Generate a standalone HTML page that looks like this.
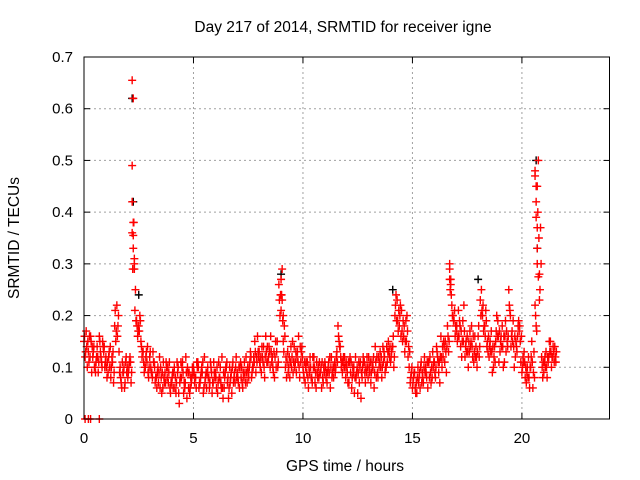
<!DOCTYPE html>
<html><head><meta charset="utf-8"><style>
body{margin:0;background:#fff}
svg{display:block;font-family:"Liberation Sans",sans-serif}
</style></head><body>
<svg id="chart" width="640" height="480" viewBox="0 0 640 480">
<rect width="640" height="480" fill="#fff"/>
<text x="343" y="32" font-size="15.5" text-anchor="middle">Day 217 of 2014, SRMTID for receiver igne</text>
<text transform="translate(19,238) rotate(-90)" font-size="15.5" text-anchor="middle">SRMTID / TECUs</text>
<text x="345" y="471" font-size="15.5" text-anchor="middle">GPS time / hours</text>
<g id="grid"></g><g id="ticks"></g><g id="black"></g><g id="red"></g>
<rect x="84" y="57" width="525.5" height="362" fill="none" stroke="#000" stroke-width="1"/>
</svg>
<script>
const xTicks=[0,5,10,15,20];
const yTicks=[0,0.1,0.2,0.3,0.4,0.5,0.6,0.7];
const yTickLabels=["0","0.1","0.2","0.3","0.4","0.5","0.6","0.7"];
const seriesA=[.15,.17,.13,.16,.12,.10,.14,.16,.11,.13,
.12,.09,.14,.11,.18,.22,.13,.07,.09,.11,
.08,.12,.36,.31,.19,.18,.15,.13,.10,.14,
.12,.09,.11,.08,.07,.10,.06,.09,.08,.11,
.07,.09,.05,.10,.08,.11,.06,.04,.09,.07,
.10,.08,.11,.07,.09,.12,.06,.08,.10,.07,
.09,.05,.08,.12,.06,.10,.04,.08,.11,.07,
.09,.06,.10,.08,.12,.09,.13,.10,.15,.11,
.13,.09,.14,.16,.11,.10,.12,.08,.13,.26,
.21,.15,.10,.13,.08,.12,.14,.09,.16,.11,
.10,.07,.11,.09,.08,.12,.06,.10,.09,.08,
.11,.07,.09,.12,.08,.10,.18,.14,.09,.12,
.10,.07,.11,.09,.12,.05,.10,.08,.11,.09,
.12,.07,.10,.14,.09,.11,.08,.13,.10,.15,
.11,.14,.20,.23,.18,.21,.16,.19,.12,.07,
.06,.09,.05,.08,.11,.07,.10,.06,.12,.08,
.11,.14,.09,.16,.12,.15,.18,.29,.22,.19,
.17,.21,.14,.19,.12,.16,.13,.18,.11,.14,
.16,.23,.20,.18,.14,.12,.17,.10,.15,.19,
.13,.18,.11,.17,.25,.14,.19,.12,.16,.18,
.09,.13,.07,.12,.10,.06,.22,.45,.28,.12,
.09,.13,.11,.15,.12,.14];
const seriesB=[.12,.10,.16,.09,.14,.11,.09,.13,.15,.10,
.08,.13,.10,.07,.15,.18,.10,.11,.06,.09,
.10,.07,.62,.25,.16,.20,.12,.09,.13,.08,
.10,.13,.07,.09,.12,.05,.08,.11,.07,.05,
.09,.06,.11,.03,.08,.05,.12,.09,.06,.10,
.07,.11,.06,.09,.05,.08,.10,.07,.05,.09,
.06,.11,.07,.04,.09,.07,.10,.05,.08,.12,
.07,.11,.06,.09,.07,.10,.08,.12,.09,.13,
.10,.12,.08,.11,.14,.13,.09,.15,.10,.20,
.29,.18,.08,.10,.14,.09,.11,.13,.08,.14,
.08,.11,.06,.10,.12,.07,.09,.11,.06,.10,
.08,.10,.06,.09,.11,.13,.15,.10,.12,.08,
.07,.12,.08,.05,.09,.11,.04,.12,.07,.10,
.09,.11,.06,.08,.12,.10,.14,.09,.11,.12,
.13,.10,.24,.17,.22,.15,.13,.20,.10,.09,
.08,.05,.10,.06,.09,.12,.08,.11,.07,.10,
.08,.12,.07,.10,.14,.09,.13,.27,.20,.16,
.15,.19,.12,.22,.15,.10,.14,.12,.16,.10,
.12,.25,.17,.21,.13,.15,.09,.14,.20,.11,
.16,.10,.19,.14,.21,.17,.10,.14,.19,.11,
.12,.08,.10,.06,.15,.13,.18,.50,.37,.08,
.12,.08,.15,.10,.13,.11];
const seriesC=[.16,.14,.11,.15,.13,.09,.12,.15,.10,.14,
.10,.12,.08,.13,.21,.16,.09,.06,.10,.12,
.09,.11,.29,.21,.18,.17,.14,.11,.12,.09,
.13,.08,.10,.06,.09,.08,.11,.07,.10,.06,
.08,.10,.07,.05,.11,.09,.07,.10,.05,.08,
.09,.06,.10,.08,.11,.07,.09,.06,.09,.11,
.08,.07,.10,.06,.08,.11,.06,.09,.07,.10,
.08,.10,.07,.11,.09,.08,.12,.10,.13,.16,
.11,.14,.10,.13,.12,.16,.10,.12,.15,.23,
.24,.13,.12,.09,.11,.15,.10,.12,.10,.13,
.09,.10,.08,.12,.07,.10,.11,.08,.10,.07,
.10,.09,.12,.08,.10,.12,.16,.12,.11,.10,
.09,.11,.06,.10,.08,.09,.11,.10,.09,.12,
.10,.09,.12,.11,.08,.13,.10,.12,.14,.13,
.12,.16,.22,.19,.20,.17,.18,.15,.14,.08,
.07,.06,.08,.09,.07,.10,.09,.11,.09,.13,
.09,.13,.11,.12,.15,.13,.16,.25,.20,.21,
.18,.16,.17,.15,.14,.13,.17,.14,.13,.12,
.18,.20,.22,.16,.15,.14,.13,.12,.17,.16,
.15,.14,.16,.15,.22,.16,.14,.15,.18,.15,
.10,.11,.09,.08,.12,.09,.20,.40,.25,.10,
.11,.10,.12,.13,.14,.12];
const seriesD=[.13,.15,.12,.14,.10,.12,.11,.12,.14,.11,
.11,.10,.12,.09,.17,.20,.08,.09,.07,.10,
.11,.09,.38,.19,.17,.19,.13,.10,.11,.10,
.09,.11,.08,.10,.06,.09,.07,.10,.09,.07,
.06,.08,.09,.07,.10,.07,.09,.06,.08,.09,
.08,.10,.07,.10,.06,.09,.08,.11,.07,.08,
.10,.08,.06,.09,.10,.08,.07,.10,.09,.08,
.10,.08,.09,.07,.10,.11,.09,.11,.12,.12,
.12,.11,.12,.14,.13,.11,.13,.10,.11,.24,
.19,.16,.11,.12,.10,.11,.13,.11,.14,.12,
.11,.09,.10,.08,.10,.09,.08,.09,.11,.09,
.09,.11,.10,.10,.09,.11,.14,.11,.10,.11,
.11,.09,.10,.08,.10,.07,.09,.11,.10,.08,
.11,.10,.09,.12,.10,.12,.11,.10,.13,.14,
.14,.12,.19,.21,.16,.19,.15,.17,.13,.10,
.09,.07,.07,.10,.08,.09,.11,.08,.10,.11,
.10,.11,.12,.14,.11,.14,.15,.24,.19,.18,
.16,.18,.15,.17,.13,.15,.15,.16,.12,.13,
.14,.21,.18,.19,.16,.13,.14,.11,.16,.17,
.14,.16,.13,.16,.20,.15,.16,.13,.17,.16,
.11,.10,.08,.10,.11,.08,.17,.35,.30,.11,
.10,.12,.13,.12,.11,.13];
const spikeTimes=[2.2,2.2,2.2,2.25,2.25,2.25,2.3,2.3,0.05,0.2,0.3,0.7,9.0,9.0,9.05,9.1,16.7,16.7,16.75,20.6,20.6,20.65,20.65,20.65,20.7,20.7,20.7,20.75,20.8];
const spikeVals=[.655,.49,.42,.38,.355,.33,.30,.29,0,0,0,0,.27,.24,.23,.20,.30,.27,.26,.48,.47,.45,.42,.39,.37,.33,.30,.275,.23];
const blackTimes=[2.2,2.25,2.5,20.65,20.7,9.0,14.1,18.0];
const blackVals=[.62,.42,.24,.50,.33,.28,.25,.27];
const X=t=>84+t*(525.5/24), Y=v=>419-v*(362/0.7);
const NS="http://www.w3.org/2000/svg";
function mk(tag,attrs,parent){const e=document.createElementNS(NS,tag);for(const k in attrs)e.setAttribute(k,attrs[k]);parent.appendChild(e);return e;}
const grid=document.getElementById('grid'),ticks=document.getElementById('ticks');
xTicks.forEach(t=>{
 if(t>0){const g=mk('line',{x1:X(t),x2:X(t),y1:57,y2:419,stroke:'#a0a0a0','stroke-dasharray':'2,3'},grid);
 
 }
 const l=mk('text',{x:X(t),y:443,'font-size':15,'text-anchor':'middle'},ticks);l.textContent=t;
 
 
 mk('line',{x1:X(t),x2:X(t),y1:419,y2:413,stroke:'#000'},ticks);
 mk('line',{x1:X(t),x2:X(t),y1:57,y2:63,stroke:'#000'},ticks);
});
yTicks.forEach((v,i)=>{
 if(v>0&&v<0.7){const g=mk('line',{x1:84,x2:609.5,y1:Y(v),y2:Y(v),stroke:'#a0a0a0','stroke-dasharray':'2,3'},grid);
 
 }
 const l=mk('text',{x:73,y:Y(v)+5,'font-size':15,'text-anchor':'end'},ticks);l.textContent=yTickLabels[i];
 
 
 mk('line',{x1:84,x2:90,y1:Y(v),y2:Y(v),stroke:'#000'},ticks);
 mk('line',{x1:603.5,x2:609.5,y1:Y(v),y2:Y(v),stroke:'#000'},ticks);
});
function plus(t,v,col,g,name){
 const p=mk('path',{d:`M${X(t)-4},${Y(v)}h8M${X(t)},${Y(v)-4}v8`,stroke:col,'stroke-width':1.4,fill:'none'},g);
 
 
}
const bg=document.getElementById('black'),rg=document.getElementById('red');
blackTimes.forEach((t,i)=>plus(t,blackVals[i],'#000',bg,'black-point'));
seriesA.forEach((v,i)=>plus(i*0.1,v,'#f00',rg,'red-point'));
seriesC.forEach((v,i)=>plus(i*0.1+0.025,v,'#f00',rg,'red-point'));
seriesB.forEach((v,i)=>plus(i*0.1+0.05,v,'#f00',rg,'red-point'));
seriesD.forEach((v,i)=>plus(i*0.1+0.075,v,'#f00',rg,'red-point'));
spikeTimes.forEach((t,i)=>plus(t,spikeVals[i],'#f00',rg,'red-point'));
</script>
</body></html>
